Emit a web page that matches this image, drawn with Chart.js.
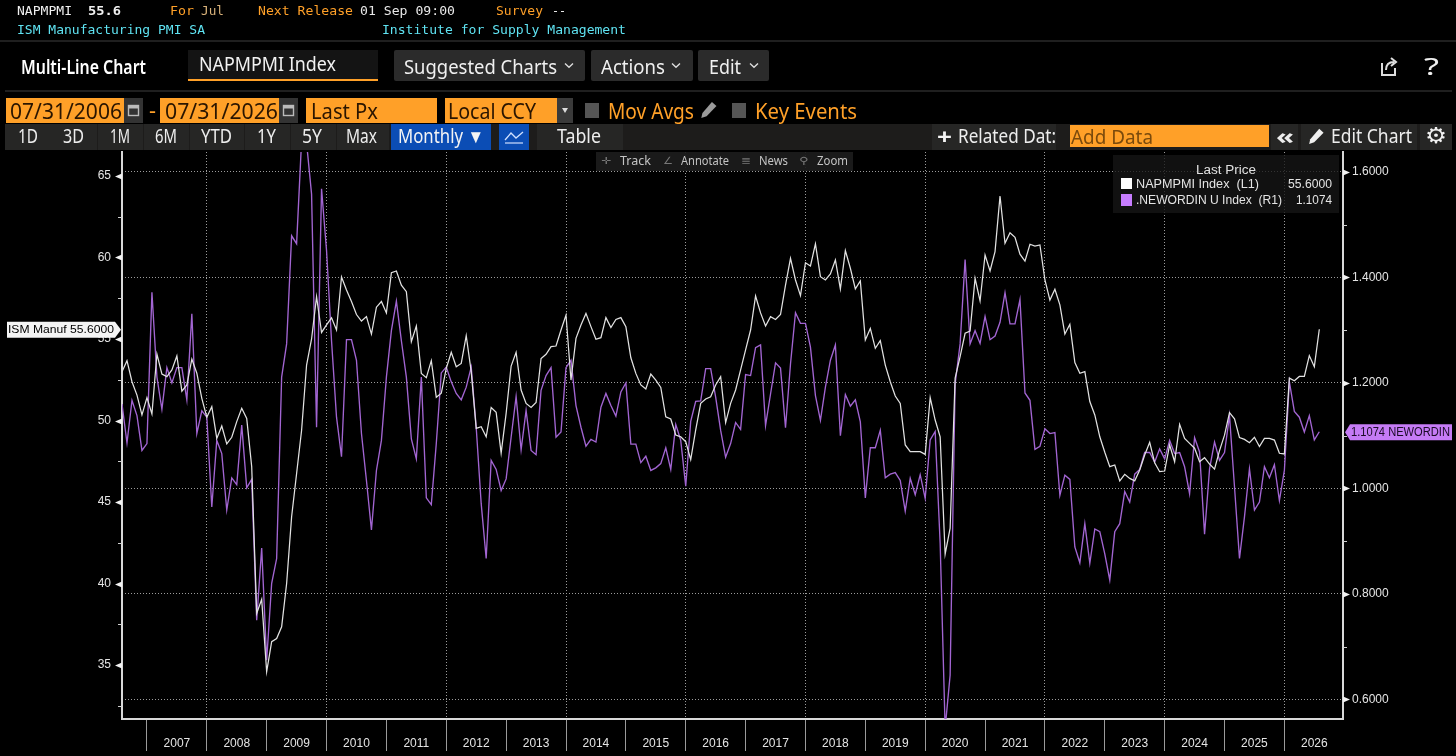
<!DOCTYPE html>
<html><head><meta charset="utf-8">
<script src="https://cdn.jsdelivr.net/npm/chart.js@4"></script>
<style>
html,body{margin:0;padding:0;background:#000;width:1456px;height:756px;overflow:hidden}
#wrap{position:relative;width:1456px;height:756px;background:#000}
canvas{position:absolute;left:0;top:0}
#ui{position:absolute;left:0;top:0;width:1456px;height:756px;pointer-events:none}
.t{position:absolute;white-space:pre;transform-origin:left center}
.b{position:absolute}
svg{display:block}
</style></head><body>
<div id="wrap"><canvas id="c" width="1456" height="756"></canvas><div id="ui"></div></div>
<script>
const years=[2007,2008,2009,2010,2011,2012,2013,2014,2015,2016,2017,2018,2019,2020,2021,2022,2023,2024,2025,2026];
const napmpmi=[52.99,53.67,52.38,51.56,50.34,51.4,50.4,54.08,52.85,52.69,
53.1,53.96,51.8,52.18,53.77,52.9,51.36,50.2,50.85,48.9,
49.66,48.56,48.97,49.93,50.75,50.13,47.16,38.17,39.03,34.59,
36.43,36.63,37.35,40.0,44.1,46.75,49.4,53.4,55.0,57.6,
55.4,55.86,56.3,55.55,58.8,58.0,57.3,56.5,56.1,56.37,
55.3,56.95,57.3,56.6,59.07,59.17,58.3,57.9,54.84,55.8,
52.89,52.63,53.67,51.42,51.67,53.2,54.18,53.3,53.5,55.2,
53.0,49.52,49.62,49.0,50.8,50.5,48.0,50.44,53.34,54.18,
51.87,51.05,50.8,51.1,53.8,54.06,54.53,54.57,55.55,56.47,
52.48,55.04,55.86,56.57,55.76,54.98,55.08,56.31,55.7,56.2,
56.31,55.76,53.85,52.89,52.18,51.93,52.85,52.48,52.03,50.23,
50.09,49.11,49.0,48.7,47.6,49.42,51.05,51.32,51.46,52.18,
52.69,49.87,51.05,51.87,53.1,54.33,55.55,57.64,56.6,55.8,
56.37,56.2,56.5,58.3,59.95,58.62,57.66,59.68,59.48,60.83,
58.82,58.62,58.99,59.85,58.07,60.42,59.34,58.07,58.56,54.94,
55.65,54.43,54.9,53.4,52.38,51.5,51.05,48.5,48.09,48.09,
48.09,47.92,51.4,50.03,49.0,41.8,43.4,52.6,53.92,55.35,
55.49,58.72,57.33,60.15,59.17,60.36,63.77,60.87,61.52,61.24,
60.2,59.78,60.81,60.7,60.77,58.62,57.39,58.05,57.09,55.3,
55.9,53.55,52.9,53.0,51.16,50.34,49.0,48.05,47.17,47.27,
46.3,46.7,46.45,46.3,46.96,47.88,48.66,47.41,46.86,46.9,
48.5,47.47,49.76,48.9,48.6,48.3,47.47,47.72,47.33,47.02,
48.15,49.1,50.48,50.1,48.95,48.84,48.64,48.97,48.4,48.9,
48.9,48.8,47.99,47.95,52.6,52.44,52.7,52.7,53.98,53.3,55.6];
const newordin=[1.160,1.086,1.167,1.138,1.072,1.085,1.372,1.211,1.150,1.229,
1.200,1.229,1.229,1.168,1.331,1.104,1.147,1.135,0.965,1.091,
1.066,0.959,1.020,1.007,1.120,1.001,1.017,0.750,0.887,0.674,
0.820,0.867,1.211,1.274,1.479,1.464,1.66,1.655,1.558,1.116,
1.568,1.451,1.280,1.135,1.060,1.282,1.282,1.243,1.104,1.015,
0.921,1.034,1.091,1.211,1.299,1.355,1.28,1.211,1.094,1.056,
1.211,0.982,0.969,1.085,1.219,1.230,1.202,1.180,1.168,1.192,
1.230,1.116,0.971,0.867,1.053,1.036,0.996,1.018,1.097,1.174,
1.073,1.148,1.072,1.064,1.186,1.214,1.229,1.097,1.107,1.229,
1.243,1.157,1.116,1.080,1.093,1.088,1.154,1.180,1.157,1.137,
1.183,1.200,1.084,1.084,1.049,1.061,1.034,1.039,1.047,1.077,
1.036,1.121,1.091,1.004,1.127,1.165,1.166,1.227,1.227,1.173,
1.110,1.059,1.085,1.125,1.112,1.216,1.214,1.267,1.272,1.119,
1.179,1.238,1.228,1.115,1.236,1.333,1.313,1.313,1.268,1.176,
1.129,1.192,1.243,1.272,1.100,1.178,1.156,1.168,1.126,0.982,
1.077,1.077,1.110,1.020,1.027,1.030,1.015,0.957,1.019,0.988,
1.026,0.981,1.092,1.108,0.896,0.545,0.646,1.198,1.274,1.434,
1.274,1.299,1.275,1.326,1.282,1.289,1.315,1.371,1.312,1.312,
1.358,1.181,1.167,1.074,1.080,1.113,1.104,1.106,0.987,1.025,
1.017,0.889,0.859,0.933,0.858,0.923,0.918,0.876,0.826,0.918,
0.933,0.994,0.974,1.027,1.036,1.068,1.068,1.050,1.075,1.056,
1.091,1.066,1.068,1.041,0.990,1.096,1.069,0.913,1.037,1.088,
1.053,1.068,1.138,1.003,0.867,0.946,1.037,0.959,0.974,1.041,
1.020,1.045,0.977,1.034,1.202,1.146,1.135,1.107,1.138,1.092,1.1074];

const AXIS='#d8d8d8', GRID='#9c9c9c', LBL='#e4e4e4';
const FONT="'Liberation Sans',Arial,sans-serif";

function fitText(ctx,text,x,y,w,size,color){
  ctx.save();ctx.fillStyle=color;ctx.font=size+"px "+FONT;ctx.textBaseline='middle';ctx.textAlign='left';
  const k=w/ctx.measureText(text).width;ctx.translate(x,y);ctx.scale(k,1);ctx.fillText(text,0,0);ctx.restore();
}
function tagLeft(ctx,text,x0,tipX,y,h,bg,fg){
  ctx.save();ctx.fillStyle=bg;ctx.beginPath();
  ctx.moveTo(x0,y-h/2);ctx.lineTo(tipX-6,y-h/2);ctx.lineTo(tipX,y);ctx.lineTo(tipX-6,y+h/2);ctx.lineTo(x0,y+h/2);ctx.closePath();ctx.fill();ctx.restore();
  fitText(ctx,text,x0+1,y+.5,tipX-x0-8,11.5,fg);
}
function tagRight(ctx,text,tipX,x1,y,h,bg,fg){
  ctx.save();ctx.fillStyle=bg;ctx.beginPath();
  ctx.moveTo(tipX,y);ctx.lineTo(tipX+5,y-h/2);ctx.lineTo(x1,y-h/2);ctx.lineTo(x1,y+h/2);ctx.lineTo(tipX+5,y+h/2);ctx.closePath();ctx.fill();ctx.restore();
  fitText(ctx,text,tipX+6,y+.5,x1-tipX-8,12,fg);
}
const axisMarks={id:'axisMarks',afterDraw(ch){
  const c=ch.ctx,L=ch.scales.yL,R=ch.scales.yR;
  c.save();c.fillStyle='#f2f2f2';c.strokeStyle='#cfcfcf';c.lineWidth=1;
  L.ticks.forEach(t=>{const y=Math.round(L.getPixelForValue(t.value))+.5,x=L.right;
    if(t.value%5===0){c.beginPath();c.moveTo(x,y-3);c.lineTo(x,y+3);c.lineTo(x-7,y);c.closePath();c.fill();}
    else{c.beginPath();c.moveTo(x-4,y);c.lineTo(x,y);c.stroke();}});
  R.ticks.forEach(t=>{const y=Math.round(R.getPixelForValue(t.value))+.5,x=R.left;
    if(Math.round(t.value*10)%2===0){c.beginPath();c.moveTo(x,y-3);c.lineTo(x,y+3);c.lineTo(x+7,y);c.closePath();c.fill();}
    else{c.beginPath();c.moveTo(x,y);c.lineTo(x+4,y);c.stroke();}});
  c.restore();
  const a=napmpmi[napmpmi.length-1],b=newordin[newordin.length-1];
  tagLeft(c,'ISM Manuf '+a.toFixed(4),7,121,L.getPixelForValue(a)+.5,16,'#f4f4f4','#000');
  tagRight(c,b.toFixed(4)+' NEWORDIN',R.left+2,1452,R.getPixelForValue(b)+.5,16,'#c57bf5','#1a0a26');
}};

new Chart(document.getElementById('c'),{
  type:'line',
  plugins:[axisMarks],
  data:{datasets:[
    {label:'NAPMPMI Index',yAxisID:'yL',data:napmpmi.map((v,i)=>({x:i,y:v})),borderColor:'#e2e2e2',borderWidth:1.25,pointRadius:0,tension:0},
    {label:'.NEWORDIN U Index',yAxisID:'yR',data:newordin.map((v,i)=>({x:i,y:v})),borderColor:'#a265d2',borderWidth:1.35,pointRadius:0,tension:0}
  ]},
  options:{
    responsive:false,animation:false,devicePixelRatio:1,
    layout:{padding:{top:152,left:0,right:0,bottom:0}},
    plugins:{legend:{display:false},tooltip:{enabled:false}},
    scales:{
      x:{type:'linear',min:0,max:244.75,
        afterFit(s){s.height=37;},
        afterBuildTicks(s){const o=[];years.forEach((y,i)=>{o.push({value:5+12*i,year:null,edge:y});o.push({value:11+12*i,year:y});});s.ticks=o;},
        grid:{drawOnChartArea:true,tickLength:32,tickWidth:1,
          color:c=>{const t=c.tick;return t&&t.edge&&t.edge%2===0?GRID:'rgba(0,0,0,0)';},
          tickColor:c=>{const t=c.tick;return t&&t.edge?'#9a9a9a':'rgba(0,0,0,0)';}},
        border:{color:AXIS,width:2,dash:[1,2]},
        ticks:{autoSkip:false,maxRotation:0,minRotation:0,padding:-15,color:LBL,font:{family:FONT,size:12},
          callback:function(v,i,ts){const t=ts[i];return t&&t.year?String(t.year):'';}}
      },
      yL:{type:'linear',position:'left',min:31.69,max:66.47,
        afterFit(s){s.width=122;},
        grid:{drawOnChartArea:false,tickLength:8,tickColor:'rgba(0,0,0,0)'},
        border:{color:AXIS,width:2},
        ticks:{stepSize:2.5,includeBounds:false,padding:3,color:LBL,font:{family:FONT,size:12},
          callback:v=>v%5===0?String(v):''}
      },
      yR:{type:'linear',position:'right',min:0.5627,max:1.6379,
        afterFit(s){s.width=113;},
        grid:{drawOnChartArea:true,tickLength:8,tickColor:'rgba(0,0,0,0)',
          color:c=>c.tick&&Math.round(c.tick.value*10)%2===0?GRID:'rgba(0,0,0,0)'},
        border:{color:AXIS,width:2,dash:[1,2]},
        ticks:{stepSize:0.1,includeBounds:false,padding:1,color:LBL,font:{family:FONT,size:12},
          callback:v=>Math.round(v*10)%2===0?v.toFixed(4):''}
      }
    }
  }
});

/* ---------- terminal chrome ---------- */
const ui=document.getElementById('ui');
const ORANGE='#ffa028',CYAN='#5fe3f2',MONO="'DejaVu Sans Mono',monospace",SANS="'Noto Sans',sans-serif";
function box(x,y,w,h,bg,extra){const d=document.createElement('div');d.className='b';d.style.cssText=`left:${x}px;top:${y}px;width:${w}px;height:${h}px;background:${bg};${extra||''}`;ui.appendChild(d);return d;}
function T(s,x0,x1,yc,size,color,font,weight){const d=document.createElement('div');d.className='t';d.textContent=s;
  d.style.cssText=`left:${x0}px;top:${yc-size}px;line-height:${size*2}px;font-size:${size}px;color:${color};font-family:${font};font-weight:${weight||400}`;
  ui.appendChild(d);const w=d.getBoundingClientRect().width;if(x1&&w>0)d.style.transform=`scaleX(${(x1-x0)/w})`;return d;}
function svg(x,y,w,h,inner){const d=document.createElement('div');d.className='b';d.style.cssText=`left:${x}px;top:${y}px;width:${w}px;height:${h}px`;d.innerHTML=`<svg width="${w}" height="${h}" viewBox="0 0 ${w} ${h}" xmlns="http://www.w3.org/2000/svg">${inner}</svg>`;ui.appendChild(d);}
const chev=(x,y)=>svg(x,y,10,7,'<path d="M1 1.5L5 5.2L9 1.5" stroke="#ddd" stroke-width="1.4" fill="none"/>');
const cal=(x,y)=>{box(x,y,19,25,'#333');svg(x+3,y+5,13,14,'<rect x="1.5" y="2.5" width="10" height="10" fill="none" stroke="#bbb" stroke-width="1.4"/><rect x="1.5" y="2.5" width="10" height="3" fill="#bbb"/>');};
const pencil=(x,y,col,s)=>svg(x,y,s,s,`<path d="M${s*.12} ${s*.95}L${s*.18} ${s*.68}L${s*.68} ${s*.1}L${s*.92} ${s*.32}L${s*.4} ${s*.85}Z" fill="${col}"/>`);

/* header rows */
T('NAPMPMI',17,72,10.5,13,'#f0f0f0',MONO);
T('55.6',88,121,10.5,13,'#f0f0f0',MONO,700);
T('For',170,194,10.5,13,ORANGE,MONO);
T('Jul',201,224,10.5,13,'#d9b27a',MONO);
T('Next Release',258,353,10.5,13,ORANGE,MONO);
T('01 Sep 09:00',360,455,10.5,13,'#e8e8e8',MONO);
T('Survey',496,543,10.5,13,ORANGE,MONO);
T('--',552,566,10.5,13,'#e8e8e8',MONO);
T('ISM Manufacturing PMI SA',17,205,29.5,13,CYAN,MONO);
T('Institute for Supply Management',382,626,29.5,13,CYAN,MONO);
box(0,40,1456,2,'#1f1f1f');

/* title row */
T('Multi-Line Chart',21,146,67,20,'#fff',SANS,600);
box(188,50,190,29,'#141414');box(188,79,190,2,ORANGE);
T('NAPMPMI Index',199,336,64,20,'#f2f2f2',SANS);
box(394,50,191,31,'#2b2b2b','border-radius:2px');T('Suggested Charts',404,557,66.5,20,'#f0f0f0',SANS);chev(564,62);
box(591,50,102,31,'#2b2b2b','border-radius:2px');T('Actions',601,665,66.5,20,'#f0f0f0',SANS);chev(671,62);
box(698,50,71,31,'#2b2b2b','border-radius:2px');T('Edit',709,741,66.5,20,'#f0f0f0',SANS);chev(749,62);
svg(1378,55,22,22,'<path d="M4 8V20H17V13" stroke="#ddd" stroke-width="2" fill="none"/><path d="M8 15C8 9 12 7 16 7M13 3L18 7L13 11" stroke="#ddd" stroke-width="2" fill="none"/>');
T('?',1424,1439,65.5,24,'#eee',SANS);
box(5,90,1447,2,'#1f1f1f');

/* date row */
box(6,98,118,25,ORANGE);T('07/31/2006',10,122,110.5,21,'#2a1500',SANS);cal(124,98);
T('-',149,156,110,21,ORANGE,SANS);
box(160,98,119,25,ORANGE);T('07/31/2026',165,278,110.5,21,'#2a1500',SANS);cal(279,98);
box(306,98,131,25,ORANGE);T('Last Px',311,378,110.5,21,'#2a1500',SANS);
box(445,98,112,25,ORANGE);T('Local CCY',448,536,110.5,21,'#2a1500',SANS);
box(557,98,16,25,'#3a3a3a');svg(561,107,8,7,'<path d="M1 1H7L4 6Z" fill="#ddd"/>');
box(585,103,14,15,'#555');T('Mov Avgs',608,694,110.5,21,ORANGE,SANS);pencil(699,100,'#9a9a9a',19);
box(732,103,14,15,'#555');T('Key Events',755,857,110.5,21,ORANGE,SANS);

/* range row */
box(5,124,1447,26,'#1d1c1b');
[[5,50],[51,46],[98,45],[144,45],[190,54],[245,45],[291,45],[337,52]].forEach(b=>box(b[0],124,b[1],26,'#262625'));
[['1D',18,38],['3D',63,84],['1M',110,130],['6M',155,177],['YTD',201,232],['1Y',257,276],['5Y',302,322],['Max',346,377]].forEach(a=>T(a[0],a[1],a[2],136,19,'#ededed',SANS));
box(391,124,100,26,'#0b4db5');T('Monthly ▼',398,484,136,19,'#f4f4f4',SANS);
box(499,124,30,26,'#0b4db5');svg(503,128,22,18,'<path d="M2 12L8 5L13 10L20 4" stroke="#cfe0ff" stroke-width="1.3" fill="none"/><path d="M2 15H20" stroke="#cfe0ff" stroke-width="1.2"/>');
box(537,124,86,26,'#262625');T('Table',557,601,136,19,'#ededed',SANS);
box(932,124,124,26,'#262625');T('+',937,952,136,21,'#f4f4f4',SANS,700);T('Related Dat:',958,1056,136,19,'#ededed',SANS);
box(1070,125,199,22,ORANGE);T('Add Data',1071,1153,136.5,20,'#7a4a0c',SANS);
box(1271,124,27,26,'#262625');T('«',1276,1294,135,22,'#ededed',SANS,700);
box(1301,124,116,26,'#262625');pencil(1307,127,'#f0f0f0',18);T('Edit Chart',1331,1412,136,19,'#ededed',SANS);
box(1420,124,32,26,'#262625');T('⚙',1425,1447,136,22,'#f0f0f0',"'DejaVu Sans',sans-serif");

/* chart tool strip */
box(596,152,257,19,'rgba(28,28,28,.92)');
T('✛',601,611,161,10,'#777',"'DejaVu Sans',sans-serif");T('Track',620,651,161,12,'#c4c4c4',SANS);
T('∠',663,673,161,10,'#777',"'DejaVu Sans',sans-serif");T('Annotate',681,729,161,12,'#c4c4c4',SANS);
T('≣',741,751,161,10,'#777',"'DejaVu Sans',sans-serif");T('News',759,788,161,12,'#c4c4c4',SANS);
T('⚲',799,809,161,10,'#777',"'DejaVu Sans',sans-serif");T('Zoom',817,848,161,12,'#c4c4c4',SANS);

/* legend */
box(1113,155,226,58,'rgba(22,22,22,.78)');
T('Last Price',1196,1256,170,12,'#e0e0e0',FONT);
box(1121,178,11,11,'#fff');T('NAPMPMI Index  (L1)',1136,1259,184,12,'#e4e4e4',FONT);T('55.6000',1288,1332,184,12,'#e4e4e4',FONT);
box(1121,194,11,12,'#c77dff');T('.NEWORDIN U Index  (R1)',1136,1282,199.5,12,'#e4e4e4',FONT);T('1.1074',1296,1332,199.5,12,'#e4e4e4',FONT);
</script>
</body></html>
